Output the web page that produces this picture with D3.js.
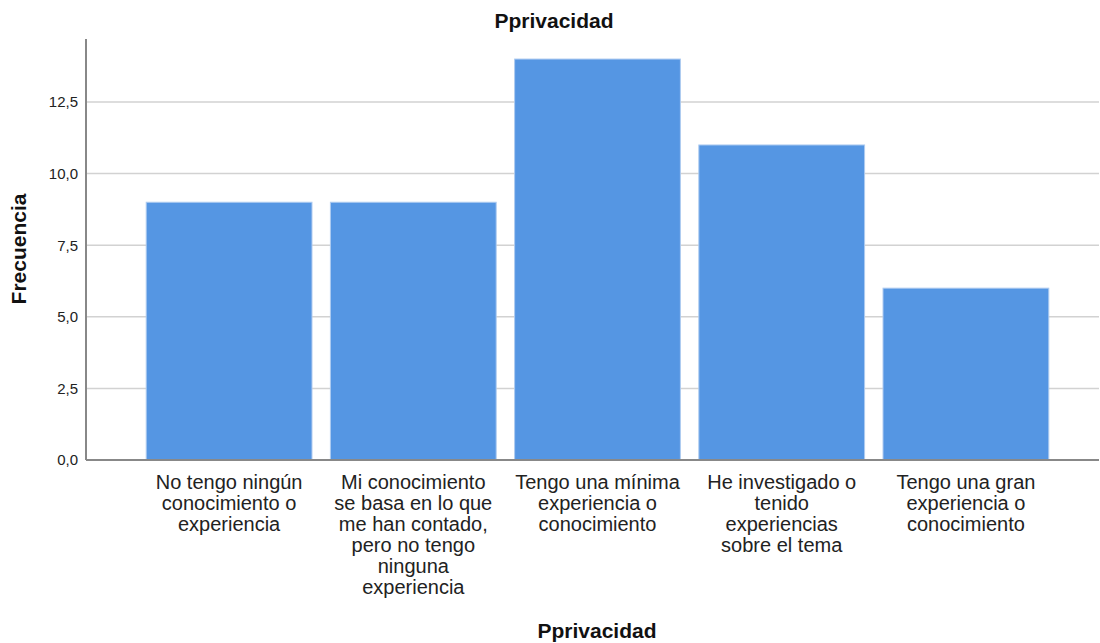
<!DOCTYPE html>
<html>
<head>
<meta charset="utf-8">
<script src="https://cdn.jsdelivr.net/npm/d3@7"></script>
<style>
  html, body { margin: 0; padding: 0; background: #fff; }
  svg { display: block; font-family: "Liberation Sans", Arial, sans-serif; }
</style>
</head>
<body>
<svg id="chart" width="1100" height="643"></svg>
<script>
const categories = [
  "No tengo ningún conocimiento o experiencia",
  "Mi conocimiento se basa en lo que me han contado, pero no tengo ninguna experiencia",
  "Tengo una mínima experiencia o conocimiento",
  "He investigado o tenido experiencias sobre el tema",
  "Tengo una gran experiencia o conocimiento"
];
const categoryLines = [
  ["No tengo ningún", "conocimiento o", "experiencia"],
  ["Mi conocimiento", "se basa en lo que", "me han contado,", "pero no tengo", "ninguna", "experiencia"],
  ["Tengo una mínima", "experiencia o", "conocimiento"],
  ["He investigado o", "tenido", "experiencias", "sobre el tema"],
  ["Tengo una gran", "experiencia o", "conocimiento"]
];
const frequencies = [9, 9, 14, 11, 6];
const yTicks = [0, 2.5, 5, 7.5, 10, 12.5];
const chartTitle = "Pprivacidad";
const xTitle = "Pprivacidad";
const yTitle = "Frecuencia";

const svg = d3.select("#chart");
const plot = { left: 86, right: 1099, top: 39, bottom: 460 };

const x = d3.scaleBand()
  .domain(categories)
  .range([137, 1058])
  .paddingInner(0.1)
  .paddingOuter(0.05);

const y = d3.scaleLinear()
  .domain([0, 14.7])
  .range([plot.bottom, plot.top]);

// gridlines
svg.append("g")
  .selectAll("line")
  .data(yTicks.filter(d => d > 0))
  .join("line")
  .attr("x1", plot.left)
  .attr("x2", plot.right)
  .attr("y1", d => y(d))
  .attr("y2", d => y(d))
  .attr("stroke", "#d2d2d2")
  .attr("stroke-width", 1.5);

// bars
svg.append("g")
  .selectAll("rect")
  .data(frequencies)
  .join("rect")
  .attr("x", (d, i) => x(categories[i]))
  .attr("width", x.bandwidth())
  .attr("y", d => y(d))
  .attr("height", d => y(0) - y(d))
  .attr("fill", "#5596e3")
  .attr("stroke", "#aecbf0")
  .attr("stroke-width", 1);

// y axis
const yAxis = d3.axisLeft(y)
  .tickValues(yTicks)
  .tickSize(0)
  .tickPadding(8)
  .tickFormat(d => d3.format(".1f")(d).replace(".", ","));
const yg = svg.append("g")
  .attr("transform", `translate(${plot.left},0)`)
  .call(yAxis);
yg.select(".domain").remove();
yg.selectAll("text")
  .attr("font-size", 15)
  .attr("font-family", "Liberation Sans, Arial, sans-serif")
  .attr("fill", "#222");

svg.append("line")
  .attr("x1", plot.left).attr("x2", plot.left)
  .attr("y1", plot.top).attr("y2", plot.bottom)
  .attr("stroke", "#888").attr("stroke-width", 2);

// x axis
const xAxis = d3.axisBottom(x).tickSize(0).tickFormat("");
const xg = svg.append("g")
  .attr("transform", `translate(0,${plot.bottom})`)
  .call(xAxis);
xg.select(".domain").remove();
svg.append("line")
  .attr("x1", plot.left).attr("x2", plot.right)
  .attr("y1", plot.bottom).attr("y2", plot.bottom)
  .attr("stroke", "#888").attr("stroke-width", 2);

xg.selectAll(".tick").each(function(d, i) {
  const t = d3.select(this).append("text")
    .attr("text-anchor", "middle")
    .attr("fill", "#222")
    .attr("font-size", 20)
    .attr("font-family", "Liberation Sans, Arial, sans-serif");
  categoryLines[i].forEach((line, j) => {
    t.append("tspan").attr("x", 0).attr("y", 29 + j * 21).text(line);
  });
});

// titles
svg.append("text")
  .attr("x", 554).attr("y", 28)
  .attr("text-anchor", "middle")
  .attr("font-size", 21).attr("font-weight", "bold")
  .attr("fill", "#111")
  .text(chartTitle);

svg.append("text")
  .attr("x", 597).attr("y", 638)
  .attr("text-anchor", "middle")
  .attr("font-size", 21).attr("font-weight", "bold")
  .attr("fill", "#111")
  .text(xTitle);

svg.append("text")
  .attr("transform", "translate(26,249) rotate(-90)")
  .attr("text-anchor", "middle")
  .attr("font-size", 21).attr("font-weight", "bold")
  .attr("fill", "#111")
  .text(yTitle);
</script>
</body>
</html>
